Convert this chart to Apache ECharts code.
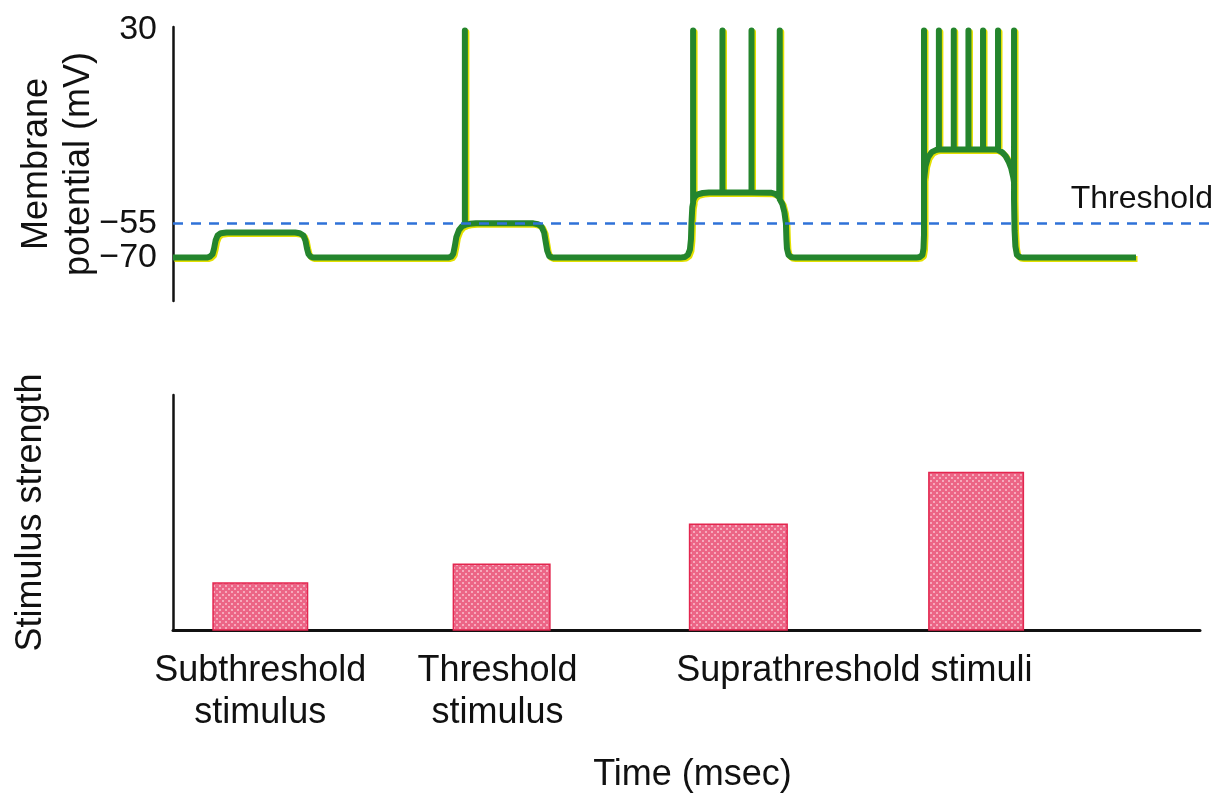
<!DOCTYPE html>
<html>
<head>
<meta charset="utf-8">
<script src="https://cdn.jsdelivr.net/npm/echarts@6/dist/echarts.min.js"></script>
<style>html,body{margin:0;padding:0;background:#fff}#chart{width:1218px;height:796px}</style>
</head>
<body>
<div id="chart"></div>
<script>
// ---- Data (time in msec, potential in mV) ----
const restStart = [[0, -70]];
const subResponse = [
  [3.3,-70],[3.6,-69.6],[3.85,-68.5],[4.0,-66],[4.15,-62.5],[4.35,-60.3],[4.65,-59.3],[5.2,-59],
  [11.9,-59],[12.35,-59.3],[12.7,-60.3],[12.9,-62.5],[13.05,-66],[13.2,-68.5],[13.4,-69.6],[13.7,-70]
];
const thresholdResponse = [
  [26.8,-70],[27.1,-69.6],[27.3,-68.3],[27.45,-65],[27.6,-61],[27.85,-58],[28.15,-56.3],[28.43,-55.8],
  [28.43,29.5],[28.43,-55.6],[28.9,-55.2],[29.5,-55],
  [35.1,-55],[35.55,-55.4],[35.9,-56.5],[36.15,-59],[36.3,-63],[36.45,-67],[36.65,-69.4],[37.0,-70]
];
const supraResponse1 = [
  [49.4,-70],[49.85,-69.7],[50.15,-68.8],[50.35,-66.5],[50.45,-62],[50.5,-55],[50.58,-48],[50.66,-46],
  [50.66,29.5],[50.66,-45],[50.8,-43.5],[51.1,-42.3],[51.6,-41.7],[52.2,-41.5],
  [53.52,-41.5],[53.52,29.5],[53.52,-41.5],
  [56.35,-41.5],[56.35,29.5],[56.35,-41.5],
  [58.3,-41.6],[58.7,-42.2],[59.05,-43.5],[59.1,-44],[59.1,29.5],[59.1,-44.5],
  [59.35,-46.5],[59.55,-50],[59.7,-55],[59.75,-62],[59.8,-66],[59.95,-68.8],[60.2,-69.7],[60.55,-70]
];
const supraResponse2 = [
  [72.4,-70],[72.75,-69.7],[73.0,-68.8],[73.1,-66],[73.15,-60],[73.15,29.5],[73.15,-36],
  [73.3,-30],[73.55,-26],[73.9,-23.8],[74.3,-22.9],[74.6,-22.7],[74.6,29.5],[74.6,-22.6],
  [76.05,-22.6],[76.05,29.5],[76.05,-22.6],
  [77.48,-22.6],[77.48,29.5],[77.48,-22.6],
  [78.9,-22.6],[78.9,29.5],[78.9,-22.6],
  [80.36,-22.7],[80.36,29.5],[80.36,-22.9],[80.75,-23.8],[81.1,-25.5],[81.4,-28],[81.65,-31],
  [81.85,-35],[81.92,-37],[81.92,29.5],[81.92,-45],[81.97,-58],[82.05,-65],[82.2,-68.8],[82.45,-69.7],[82.8,-70]
];
const restEnd = [[93.8, -70]];

const thresholdMv = -55;
const potentialTicks = [30, -55, -70];

const stimStart    = [3.9, 27.3, 50.3, 73.6];
const stimEnd      = [13.1, 36.7, 59.8, 82.8];
const stimStrength = [2.0, 2.8, 4.5, 6.7];

const stimLabels    = ['Subthreshold\nstimulus', 'Threshold\nstimulus', 'Suprathreshold stimuli'];
const stimLabelTime = [8.5, 31.6, 66.35];

// ---- Build ----
const trace = [].concat(restStart, subResponse, thresholdResponse, supraResponse1, supraResponse2, restEnd);
const bars = stimStart.map((s, i) => [s, stimEnd[i], stimStrength[i]]);

// dotted pink texture for the bars
const tile = document.createElement('canvas');
tile.width = 6; tile.height = 6;
const tc = tile.getContext('2d');
tc.fillStyle = '#ec6586'; tc.fillRect(0, 0, 6, 6);
tc.fillStyle = '#f6a9bc'; tc.fillRect(0, 0, 2, 2); tc.fillRect(3, 3, 2, 2);

const FONT = '"Liberation Sans", Arial, Helvetica, sans-serif';
const INK = '#111';

const chart = echarts.init(document.getElementById('chart'));
chart.setOption({
  animation: false,
  backgroundColor: '#fff',
  textStyle: { fontFamily: FONT, color: INK },
  grid: [
    { left: 173, top: 27, height: 274, right: 5, outerBoundsMode: 'none', containLabel: false },
    { left: 173, top: 395, height: 235, right: 18, outerBoundsMode: 'none', containLabel: false }
  ],
  xAxis: [
    { gridIndex: 0, type: 'value', min: 0, max: 101.3,
      axisLine: { show: false }, axisTick: { show: false }, axisLabel: { show: false }, splitLine: { show: false } },
    { gridIndex: 1, type: 'value', min: 0, max: 100,
      axisLine: { show: true, onZero: false, lineStyle: { color: INK, width: 3 } },
      axisTick: { show: false }, splitLine: { show: false },
      axisLabel: {
        customValues: stimLabelTime,
        formatter: v => { const i = stimLabelTime.indexOf(v); return i >= 0 ? stimLabels[i] : ''; },
        fontSize: 36, lineHeight: 42, margin: 20, color: INK, fontFamily: FONT
      },
      name: 'Time (msec)', nameLocation: 'middle', nameGap: 127, nameMoveOverlap: false,
      nameTextStyle: { fontSize: 36, color: INK, fontFamily: FONT, padding: [0, 0, 0, 12] }
    }
  ],
  yAxis: [
    { gridIndex: 0, type: 'value', min: -89, max: 31,
      axisLine: { show: true, lineStyle: { color: INK, width: 2.5 } },
      axisTick: { show: false }, splitLine: { show: false },
      axisLabel: {
        customValues: potentialTicks,
        formatter: v => (v < 0 ? '\u2212' + Math.abs(v) : String(v)),
        fontSize: 34, margin: 16, color: INK, fontFamily: FONT
      },
      name: 'Membrane\npotential (mV)', nameLocation: 'middle', nameRotate: 90, nameGap: 73,
      nameMoveOverlap: false,
      nameTextStyle: { fontSize: 36, lineHeight: 42, color: INK, fontFamily: FONT }
    },
    { gridIndex: 1, type: 'value', min: 0, max: 10,
      axisLine: { show: true, lineStyle: { color: INK, width: 2.5 } },
      axisTick: { show: false }, splitLine: { show: false }, axisLabel: { show: false },
      name: 'Stimulus strength', nameLocation: 'middle', nameRotate: 90, nameGap: 124,
      nameMoveOverlap: false,
      nameTextStyle: { fontSize: 36, color: INK, fontFamily: FONT }
    }
  ],
  series: [
    { // threshold line
      type: 'line', xAxisIndex: 0, yAxisIndex: 0, data: [], z: 1,
      markLine: {
        silent: true, symbol: 'none',
        lineStyle: { color: '#2f72d8', width: 2.5, type: [10, 8] },
        label: { show: true, formatter: 'Threshold', position: 'insideEndTop', distance: [0, 8],
                 fontSize: 32, color: INK, fontFamily: FONT },
        data: [{ yAxis: thresholdMv }]
      }
    },
    { // membrane potential trace
      type: 'line', xAxisIndex: 0, yAxisIndex: 0, data: trace, z: 3,
      showSymbol: false, symbol: 'none', clip: false,
      lineStyle: { color: '#24852d', width: 6, join: 'round', cap: 'butt',
                   shadowColor: '#e4e000', shadowOffsetX: 1.5, shadowOffsetY: 1.5, shadowBlur: 0 }
    },
    { // stimulus bars
      type: 'custom', xAxisIndex: 1, yAxisIndex: 1, data: bars,
      encode: { x: [0, 1], y: 2 },
      renderItem: (params, api) => {
        const p0 = api.coord([api.value(0), api.value(2)]);
        const p1 = api.coord([api.value(1), 0]);
        return { type: 'rect',
          shape: { x: p0[0], y: p0[1], width: p1[0] - p0[0], height: p1[1] - p0[1] },
          style: { fill: { image: tile, repeat: 'repeat' }, stroke: '#e3264f', lineWidth: 1.5 } };
      }
    }
  ]
});
</script>
</body>
</html>
